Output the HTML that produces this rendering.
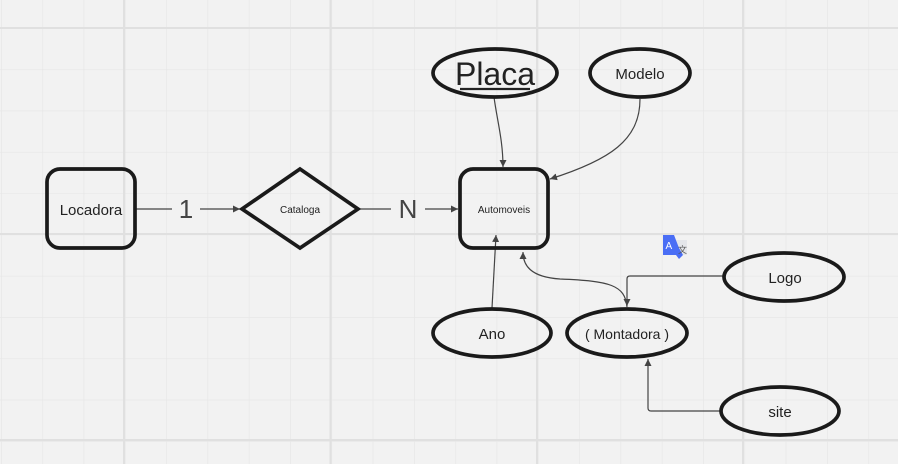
<!DOCTYPE html>
<html><head><meta charset="utf-8"><style>
html,body{margin:0;padding:0;background:#f2f2f2;}
svg{display:block;}
text{font-family:"Liberation Sans","DejaVu Sans",sans-serif;fill:#222;}
</style></head><body>
<svg width="898" height="464" viewBox="0 0 898 464" xmlns="http://www.w3.org/2000/svg">
<defs>
<pattern id="g" x="1" y="28" width="41.3" height="41.3" patternUnits="userSpaceOnUse">
<path d="M0 0 V41.3 M0 0 H41.3" stroke="#e6e6e6" stroke-width="1.3" fill="none"/>
</pattern>
<marker id="a" markerWidth="8" markerHeight="8" refX="7" refY="4" orient="auto" markerUnits="userSpaceOnUse">
<path d="M0 0.5 L7 4 L0 7.5 Z" fill="#444"/>
</marker>
</defs>
<rect width="898" height="464" fill="#f2f2f2"/>
<rect width="898" height="464" fill="url(#g)"/>
<g stroke="#e0e0e0" stroke-width="2">
<line x1="124" y1="0" x2="124" y2="464"/><line x1="330.5" y1="0" x2="330.5" y2="464"/>
<line x1="537" y1="0" x2="537" y2="464"/><line x1="743" y1="0" x2="743" y2="464"/>
<line x1="0" y1="28" x2="898" y2="28"/><line x1="0" y1="234" x2="898" y2="234"/><line x1="0" y1="440" x2="898" y2="440"/>
</g>

<!-- connectors -->
<g stroke="#444" stroke-width="1.2" fill="none">
<line x1="136" y1="209" x2="172" y2="209"/>
<line x1="200" y1="209" x2="240" y2="209" marker-end="url(#a)"/>
<line x1="358" y1="209" x2="391" y2="209"/>
<line x1="425" y1="209" x2="458" y2="209" marker-end="url(#a)"/>
<path d="M494 97 C497 120 503 140 503 167" marker-end="url(#a)"/>
<path d="M640 99 C640 140 610 160 550 179" marker-end="url(#a)"/>
<path d="M492 308 L496 235" marker-end="url(#a)"/>
<path d="M627 307 C625 285 610 281 560 279 C530 277 523 265 523 252" marker-end="url(#a)"/>
<path d="M724 276 L630 276 Q627 276 627 279 L627 306" marker-end="url(#a)"/>
<path d="M720 411 L651 411 Q648 411 648 408 L648 359" marker-end="url(#a)"/>
</g>

<!-- shapes -->
<g stroke="#1a1a1a" stroke-width="3.7" fill="none">
<rect x="47" y="169" width="88" height="79" rx="13"/>
<polygon points="300,169 358,209 300,248 242,209"/>
<rect x="460" y="169" width="88" height="79" rx="13"/>
<ellipse cx="495" cy="73" rx="62" ry="24"/>
<ellipse cx="640" cy="73" rx="50" ry="24"/>
<ellipse cx="492" cy="333" rx="59" ry="24"/>
<ellipse cx="627" cy="333" rx="60" ry="24"/>
<ellipse cx="784" cy="277" rx="60" ry="24"/>
<ellipse cx="780" cy="411" rx="59" ry="24"/>
</g>

<!-- labels -->
<text x="91" y="215" font-size="15" text-anchor="middle">Locadora</text>
<text x="300" y="213" font-size="10" text-anchor="middle">Cataloga</text>
<text x="504" y="213" font-size="10" text-anchor="middle">Automoveis</text>
<text x="186" y="218" font-size="26" text-anchor="middle" style="fill:#444">1</text>
<text x="408" y="218" font-size="26" text-anchor="middle" style="fill:#444">N</text>
<text x="495" y="85" font-size="32" text-anchor="middle">Placa</text>
<line x1="460" y1="89" x2="530" y2="89" stroke="#222" stroke-width="2.2"/>
<text x="640" y="79" font-size="15" text-anchor="middle">Modelo</text>
<text x="492" y="339" font-size="15" text-anchor="middle">Ano</text>
<text x="627" y="339" font-size="14" text-anchor="middle">( Montadora )</text>
<text x="785" y="283" font-size="15" text-anchor="middle">Logo</text>
<text x="780" y="417" font-size="15" text-anchor="middle">site</text>

<!-- translate icon -->
<rect x="675" y="240" width="12" height="15" fill="#e4e6ea"/>
<path d="M663 235 H674 L679 248 L683 255 L679 259 L676 255 H663 Z" fill="#4a6ef5"/>
<text x="665.5" y="249" font-size="10" style="fill:#fff">A</text>
<text x="678" y="253" font-size="9" style="fill:#555">文</text>
</svg>
</body></html>
